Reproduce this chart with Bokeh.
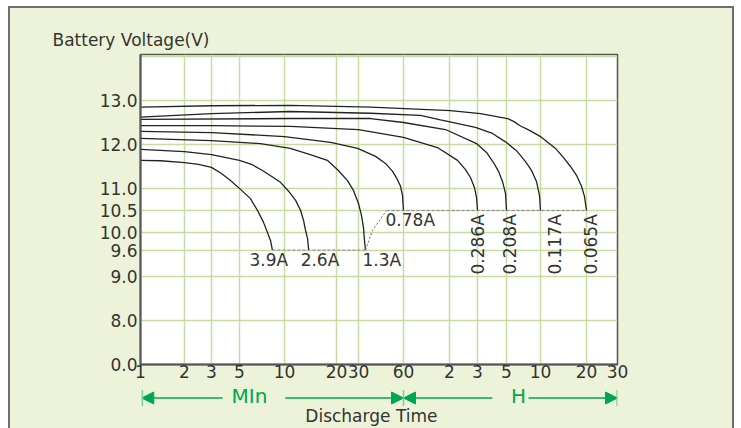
import numpy as np
from bokeh.plotting import figure
from bokeh.layouts import column
from bokeh.models import FixedTicker, Arrow, NormalHead
from bokeh.core.properties import value
from bokeh.embed import file_html
from bokeh.resources import INLINE

# ---------------- data ----------------
# x axis: discharge time in minutes (1 min ... 30 h), broken log scale
tick_minutes = [1, 2, 3, 5, 10, 20, 30, 60, 120, 180, 300, 600, 1200, 1800]
tick_labels_x = ["1", "2", "3", "5", "10", "20", "30", "60", "2", "3", "5", "10", "20", "30"]
tick_offsets = [0, 44, 71, 99, 144, 196, 218, 263, 309, 337, 366, 400, 446, 477]

# y axis: battery voltage (broken below 8 V)
y_ticks = [0, 8, 9, 9.6, 10, 10.5, 11, 12, 13, 14]
y_tick_labels = ["0.0", "8.0", "9.0", "9.6", "10.0", "10.5", "11.0", "12.0", "13.0", ""]

# discharge curves: time (min) / voltage (V)
t_3_9A = [1, 1.37, 2, 2.47, 3, 3.6, 4.24, 5.08, 5.92, 6.6, 7.24, 7.69, 8.06, 8.3]
v_3_9A = [11.64, 11.63, 11.59, 11.55, 11.48, 11.34, 11.18, 10.98, 10.77, 10.5, 10.23, 10.0, 9.82, 9.6]

t_2_6A = [1, 2, 3, 5, 6.0, 7.13, 9.4, 10.5, 11.6, 12.4, 12.9, 13.2, 13.6, 13.8]
v_2_6A = [11.89, 11.84, 11.77, 11.64, 11.55, 11.41, 11.14, 10.95, 10.73, 10.5, 10.27, 10.07, 9.86, 9.6]

t_1_3A = [1, 3, 6.9, 10.8, 14.1, 17.7, 20.7, 24.5, 27.4, 30, 31.4, 32.4, 32.8, 33.4]
v_1_3A = [12.14, 12.09, 12.02, 11.91, 11.77, 11.64, 11.41, 11.18, 10.95, 10.66, 10.39, 10.11, 9.86, 9.6]

t_0_78A = [1, 3, 10, 18.5, 29.5, 39, 45.5, 50.7, 54.7, 57.3, 59.1, 60]
v_0_78A = [12.30, 12.27, 12.18, 12.05, 11.91, 11.73, 11.57, 11.39, 11.20, 11.05, 10.84, 10.5]

t_0_286A = [1, 3, 10.8, 30, 60, 100, 134.8, 151.3, 162.6, 172.3, 177.5, 180]
v_0_286A = [12.43, 12.43, 12.41, 12.34, 12.16, 11.93, 11.64, 11.43, 11.25, 11.02, 10.80, 10.5]

t_0_208A = [1, 10.8, 36.1, 60, 113, 177.5, 211, 238.6, 260.6, 279.6, 294.7, 300]
v_0_208A = [12.57, 12.59, 12.59, 12.5, 12.34, 12.02, 11.82, 11.59, 11.39, 11.16, 10.89, 10.5]

t_0_117A = [1, 3, 10.8, 36.1, 77.5, 104.8, 174.8, 234.4, 294.7, 367.8, 442, 499.5, 553, 588, 600]
v_0_117A = [12.62, 12.70, 12.75, 12.71, 12.66, 12.56, 12.39, 12.25, 12.06, 11.86, 11.61, 11.41, 11.16, 10.84, 10.5]

t_0_065A = [1, 3, 10.8, 36.1, 121.7, 189.8, 306, 350, 399, 480, 600, 752, 848.5, 943, 1032, 1113, 1164, 1200]
v_0_065A = [12.85, 12.88, 12.89, 12.85, 12.77, 12.70, 12.59, 12.52, 12.42, 12.32, 12.18, 11.91, 11.70, 11.5, 11.30, 11.05, 10.82, 10.5]

# cut-off guide lines
t_cut_low = [8.3, 33.4]
v_cut_low = [9.6, 9.6]
t_cut_link = [33.4, 37.2, 46.2]
v_cut_link = [9.6, 10.05, 10.5]
t_cut_high = [46.2, 1200]
v_cut_high = [10.5, 10.5]

# curve labels
h_labels = ["3.9A", "2.6A", "1.3A", "0.78A"]
h_label_t = [5.83, 12.4, 31.9, 45.5]
h_label_v = [9.386, 9.386, 9.386, 10.295]
r_labels = ["0.286A", "0.208A", "0.117A", "0.065A"]
r_label_t = [180, 325, 741, 1281]
r_label_v = [9.045, 9.045, 9.045, 9.045]

# time-span legend below the axis
span_labels = ["MIn", "H"]
span_label_t = [5.83, 383]
span_arrows = [(3.67, 1.02), (10.1, 60), (234, 60), (470, 1800)]   # (line start, arrow tip) in minutes
span_bars = [1.03, 60, 1790]
x_title = "Discharge Time"
x_title_t = 36.6
y_title = "Battery Voltage(V)"

# ---------------- helpers ----------------
def xpos(t):
    return np.interp(np.log10(np.asarray(t, float)), np.log10(tick_minutes), tick_offsets)

def ypos(v):
    v = np.asarray(v, float)
    return np.where(v >= 8, v, 7.0 + v / 8.0)

GREEN = "#00a651"
PANEL = "#edf3d8"
GRID = "#c6dca0"
INK = "#333333"
FONT = "DejaVu Sans"
W = 722
MAIN_H = 376
STRIP_H = 44

p = figure(width=W, height=MAIN_H, x_range=(0, 477), y_range=(7.0, 14.045),
           output_backend="svg", toolbar_location=None,
           min_border_left=130, min_border_right=115, min_border_top=46, min_border_bottom=20,
           background_fill_color="white", border_fill_color=PANEL,
           outline_line_color="#555555", outline_line_width=1.5)

p.title.text = y_title
p.title.align = "left"
p.title.offset = -88
p.title.standoff = 9
p.title.text_font = FONT
p.title.text_font_size = "17px"
p.title.text_font_style = "normal"
p.title.text_color = INK

yt = [float(y) for y in ypos(y_ticks)]
p.xaxis.ticker = FixedTicker(ticks=tick_offsets)
p.xaxis.major_label_overrides = {o: lab for o, lab in zip(tick_offsets, tick_labels_x)}
p.yaxis.ticker = FixedTicker(ticks=yt)
p.yaxis.major_label_overrides = {y: lab for y, lab in zip(yt, y_tick_labels)}

for ax in (p.xaxis, p.yaxis):
    ax.axis_line_color = "#555555"
    ax.axis_line_width = 2
    ax.major_tick_line_color = None
    ax.minor_tick_line_color = None
    ax.major_tick_in = 0
    ax.major_tick_out = 0
    ax.major_label_text_font = FONT
    ax.major_label_text_font_size = "17px"
    ax.major_label_text_color = INK
p.xaxis.major_label_standoff = 0
p.yaxis.major_label_standoff = 3

for g in (p.xgrid, p.ygrid):
    g.grid_line_color = GRID
    g.grid_line_width = 1.5

curves = [(t_3_9A, v_3_9A), (t_2_6A, v_2_6A), (t_1_3A, v_1_3A), (t_0_78A, v_0_78A),
          (t_0_286A, v_0_286A), (t_0_208A, v_0_208A), (t_0_117A, v_0_117A), (t_0_065A, v_0_065A)]
for t, v in curves:
    p.line(xpos(t), ypos(v), line_color="#222222", line_width=1.3)

p.line(xpos(t_cut_low), ypos(v_cut_low), line_color="#888888", line_width=1, line_dash="3 2")
p.line(xpos(t_cut_link), ypos(v_cut_link), line_color="#666666", line_width=1, line_dash="2 2")
p.line(xpos(t_cut_high), ypos(v_cut_high), line_color="#888888", line_width=1, line_dash="3 2")

p.text(x=xpos(h_label_t), y=ypos(h_label_v), text=h_labels,
       text_font=value(FONT), text_font_size=value("17px"), text_color=INK,
       text_align="left", text_baseline="middle")
p.text(x=xpos(r_label_t), y=ypos(r_label_v), text=r_labels, angle=np.pi / 2,
       text_font=value(FONT), text_font_size=value("17px"), text_color=INK,
       text_align="left", text_baseline="middle")

# ---------------- strip below the axis (frame aligned with the chart, 1 unit = 1 px) ----------------
s = figure(width=W, height=STRIP_H, x_range=(0, 477), y_range=(STRIP_H, 0),
           output_backend="svg", toolbar_location=None,
           min_border_left=130, min_border_right=115, min_border_top=0, min_border_bottom=0,
           background_fill_color=PANEL, border_fill_color=PANEL, outline_line_color=None)
s.axis.visible = False
s.grid.visible = False

ARROW_Y = 13.5
for a, b in span_arrows:
    s.add_layout(Arrow(end=NormalHead(size=12, fill_color=GREEN, line_color=GREEN, line_width=1),
                       x_start=float(xpos(a)), y_start=ARROW_Y, x_end=float(xpos(b)), y_end=ARROW_Y,
                       line_color=GREEN, line_width=1.3))
for b in span_bars:
    s.add_layout(Arrow(start=None, end=None, x_start=float(xpos(b)), x_end=float(xpos(b)),
                       y_start=ARROW_Y - 8, y_end=ARROW_Y + 8, line_color="#74cf9a", line_width=1.5))

s.text(x=xpos(span_label_t), y=[11.8, 11.8], text=span_labels,
       text_font=value(FONT), text_font_size=value("20px"), text_color=GREEN,
       text_align="center", text_baseline="middle")
s.text(x=xpos([x_title_t]), y=[31], text=[x_title],
       text_font=value(FONT), text_font_size=value("17px"), text_color=INK,
       text_align="center", text_baseline="middle")

layout = column(p, s, spacing=0,
                styles={"margin-left": "8px", "margin-top": "6px",
                        "background-color": PANEL,
                        "border-top": "2px solid #6e6e6e",
                        "border-left": "2px solid #6e6e6e",
                        "border-right": "2px solid #6e6e6e"})

open("out.html", "w").write(file_html(layout, INLINE))
